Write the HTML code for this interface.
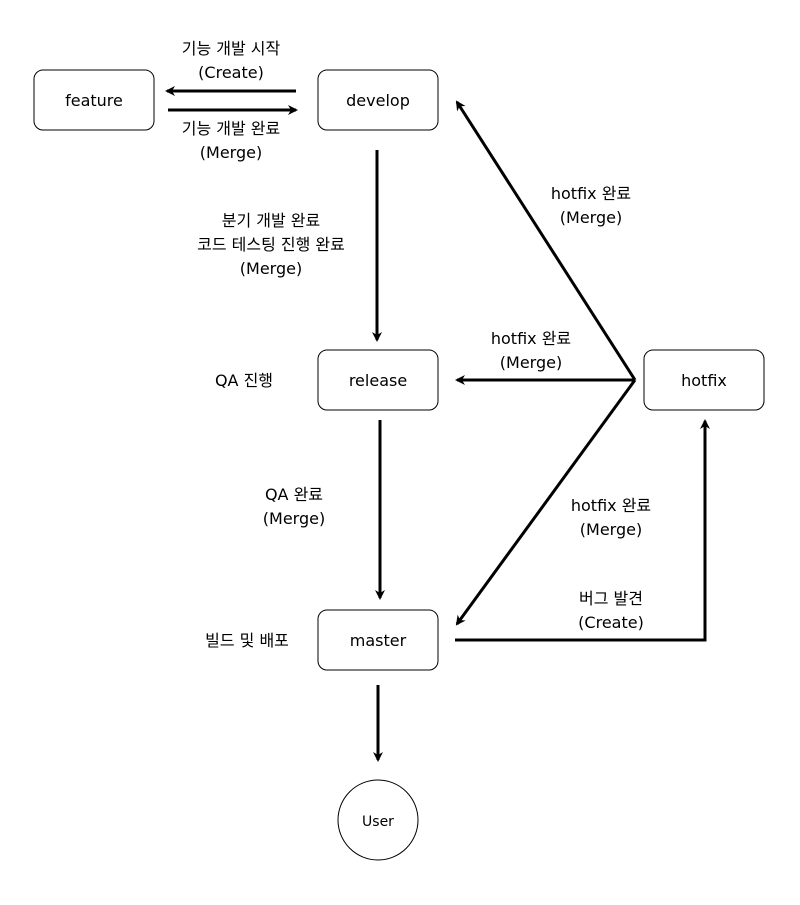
<!DOCTYPE html>
<html><head><meta charset="utf-8"><style>
html,body{margin:0;padding:0;background:#fff;}
svg text{font-family:"DejaVu Sans","Noto Sans CJK KR",sans-serif;font-size:16px;fill:#000;text-anchor:middle;}
</style></head><body>
<svg width="800" height="900" viewBox="0 0 800 900" xmlns="http://www.w3.org/2000/svg">
<defs><marker id="a" markerWidth="10" markerHeight="10" refX="8" refY="5" orient="auto" markerUnits="userSpaceOnUse"><path d="M0,0 L10,5 L0,10 L3,5 Z" fill="#000"/></marker></defs>
<g fill="#fff" stroke="#000" stroke-width="1">
<rect x="34" y="70" width="120" height="60" rx="9"/>
<rect x="318" y="70" width="120" height="60" rx="9"/>
<rect x="318" y="350" width="120" height="60" rx="9"/>
<rect x="318" y="610" width="120" height="60" rx="9"/>
<rect x="644" y="350" width="120" height="60" rx="9"/>
<circle cx="378" cy="820" r="40"/>
</g>
<g stroke="#000" stroke-width="3" fill="none" marker-end="url(#a)">
<line x1="296" y1="91" x2="167" y2="91"/>
<line x1="168" y1="110" x2="296" y2="110"/>
<line x1="377" y1="150" x2="377" y2="340"/>
<line x1="380" y1="420" x2="380" y2="598"/>
<line x1="378" y1="685" x2="378" y2="760"/>
<line x1="635" y1="380" x2="457" y2="102"/>
<line x1="635" y1="380" x2="457" y2="380"/>
<line x1="635" y1="380" x2="457" y2="624"/>
<polyline points="455,640 705,640 705,421"/>
</g>
<text x="94" y="106">feature</text>
<text x="378" y="106">develop</text>
<text x="378" y="386">release</text>
<text x="378" y="646">master</text>
<text x="704" y="386">hotfix</text>
<text x="378" y="826" style="font-size:14px">User</text>
<text x="231" y="54">기능 개발 시작</text>
<text x="231" y="78">(Create)</text>
<text x="231" y="134">기능 개발 완료</text>
<text x="231" y="158">(Merge)</text>
<text x="271" y="226">분기 개발 완료</text>
<text x="271" y="250">코드 테스팅 진행 완료</text>
<text x="271" y="274">(Merge)</text>
<text x="591" y="199">hotfix 완료</text>
<text x="591" y="223">(Merge)</text>
<text x="531" y="344">hotfix 완료</text>
<text x="531" y="368">(Merge)</text>
<text x="611" y="511">hotfix 완료</text>
<text x="611" y="535">(Merge)</text>
<text x="611" y="604">버그 발견</text>
<text x="611" y="628">(Create)</text>
<text x="244" y="386">QA 진행</text>
<text x="294" y="500">QA 완료</text>
<text x="294" y="524">(Merge)</text>
<text x="247" y="646">빌드 및 배포</text>
</svg>
</body></html>
